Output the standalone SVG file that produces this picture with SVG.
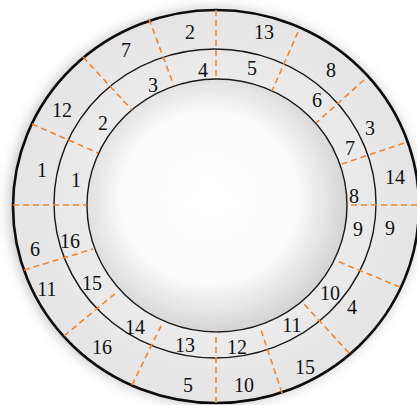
<svg xmlns="http://www.w3.org/2000/svg" width="417" height="405" viewBox="0 0 417 405">
  <defs>
    <filter id="shadow" x="-20%" y="-20%" width="140%" height="140%">
      <feGaussianBlur stdDeviation="7"/>
    </filter>
    <radialGradient id="hole" cx="0.47" cy="0.47" r="0.55">
      <stop offset="0" stop-color="#ffffff"/>
      <stop offset="0.62" stop-color="#fafafa"/>
      <stop offset="1" stop-color="#d0d0d0"/>
    </radialGradient>
    <radialGradient id="band" cx="0.5" cy="0.5" r="0.5">
      <stop offset="0.6" stop-color="#ececec"/>
      <stop offset="1" stop-color="#e4e4e4"/>
    </radialGradient>
  </defs>
  <style>
    .ring { fill: none; stroke: #1a1a1a; }
    .outer { stroke-width: 2.6; stroke: #0d0d0d; }
    .thin { stroke-width: 1.4; }
    .div { stroke: #f5842a; stroke-width: 1.6; stroke-dasharray: 6 4; fill: none; }
    .lbl { font-family: "Liberation Serif", "DejaVu Serif", serif; font-size: 20px; fill: #111; text-anchor: middle; }
  </style>
  <rect width="417" height="405" fill="#ffffff"/>
  <g id="background">
    <ellipse cx="214" cy="206.5" rx="204" ry="197" fill="#8a8a8a" opacity="0.55" filter="url(#shadow)"/>
    <ellipse cx="216" cy="206.5" rx="203" ry="196.5" fill="url(#band)"/>
    <ellipse cx="217" cy="205.5" rx="130" ry="126.5" fill="url(#hole)"/>
  </g>
  <g id="rings">
    <ellipse id="outer-ring" class="ring outer" cx="216" cy="206.5" rx="203" ry="196.5"/>
    <ellipse id="middle-ring" class="ring thin" cx="215" cy="203.5" rx="161" ry="154.5"/>
    <ellipse id="inner-ring" class="ring thin" cx="217" cy="205.5" rx="130" ry="126.5"/>
  </g>
  <g id="connectors">
    <line class="div" x1="417" y1="205" x2="347" y2="205"/>
    <line class="div" x1="404" y1="143" x2="342" y2="164"/>
    <line class="div" x1="364" y1="80" x2="316" y2="123"/>
    <line class="div" x1="298" y1="32" x2="272" y2="91"/>
    <line class="div" x1="216" y1="10" x2="216" y2="79"/>
    <line class="div" x1="149" y1="19" x2="174" y2="86"/>
    <line class="div" x1="83" y1="57" x2="132" y2="110"/>
    <line class="div" x1="32" y1="124" x2="98" y2="153"/>
    <line class="div" x1="13" y1="205" x2="87" y2="205"/>
    <line class="div" x1="24" y1="270" x2="93" y2="249"/>
    <line class="div" x1="64" y1="336" x2="117" y2="292"/>
    <line class="div" x1="132" y1="385" x2="162" y2="324"/>
    <line class="div" x1="216" y1="403" x2="216" y2="332"/>
    <line class="div" x1="282" y1="393" x2="260" y2="327"/>
    <line class="div" x1="349" y1="353" x2="304" y2="304"/>
    <line class="div" x1="400" y1="287" x2="337" y2="261"/>
  </g>
  <g id="outer-labels">
    <text class="lbl" x="190" y="39">2</text>
    <text class="lbl" x="264" y="39">13</text>
    <text class="lbl" x="331" y="77">8</text>
    <text class="lbl" x="370" y="135">3</text>
    <text class="lbl" x="395" y="184">14</text>
    <text class="lbl" x="390" y="235">9</text>
    <text class="lbl" x="352" y="314">4</text>
    <text class="lbl" x="305" y="374">15</text>
    <text class="lbl" x="244" y="392">10</text>
    <text class="lbl" x="188" y="392">5</text>
    <text class="lbl" x="102" y="354">16</text>
    <text class="lbl" x="47" y="296">11</text>
    <text class="lbl" x="35" y="256">6</text>
    <text class="lbl" x="42" y="177">1</text>
    <text class="lbl" x="62" y="117">12</text>
    <text class="lbl" x="126" y="57">7</text>
  </g>
  <g id="inner-labels">
    <text class="lbl" x="203" y="77">4</text>
    <text class="lbl" x="252" y="75">5</text>
    <text class="lbl" x="317" y="107">6</text>
    <text class="lbl" x="350" y="155">7</text>
    <text class="lbl" x="354" y="203">8</text>
    <text class="lbl" x="358" y="236">9</text>
    <text class="lbl" x="330" y="300">10</text>
    <text class="lbl" x="292" y="332">11</text>
    <text class="lbl" x="237" y="354">12</text>
    <text class="lbl" x="185" y="352">13</text>
    <text class="lbl" x="135" y="334">14</text>
    <text class="lbl" x="92" y="290">15</text>
    <text class="lbl" x="70" y="248">16</text>
    <text class="lbl" x="76" y="187">1</text>
    <text class="lbl" x="103" y="130">2</text>
    <text class="lbl" x="153" y="92">3</text>
  </g>
</svg>
